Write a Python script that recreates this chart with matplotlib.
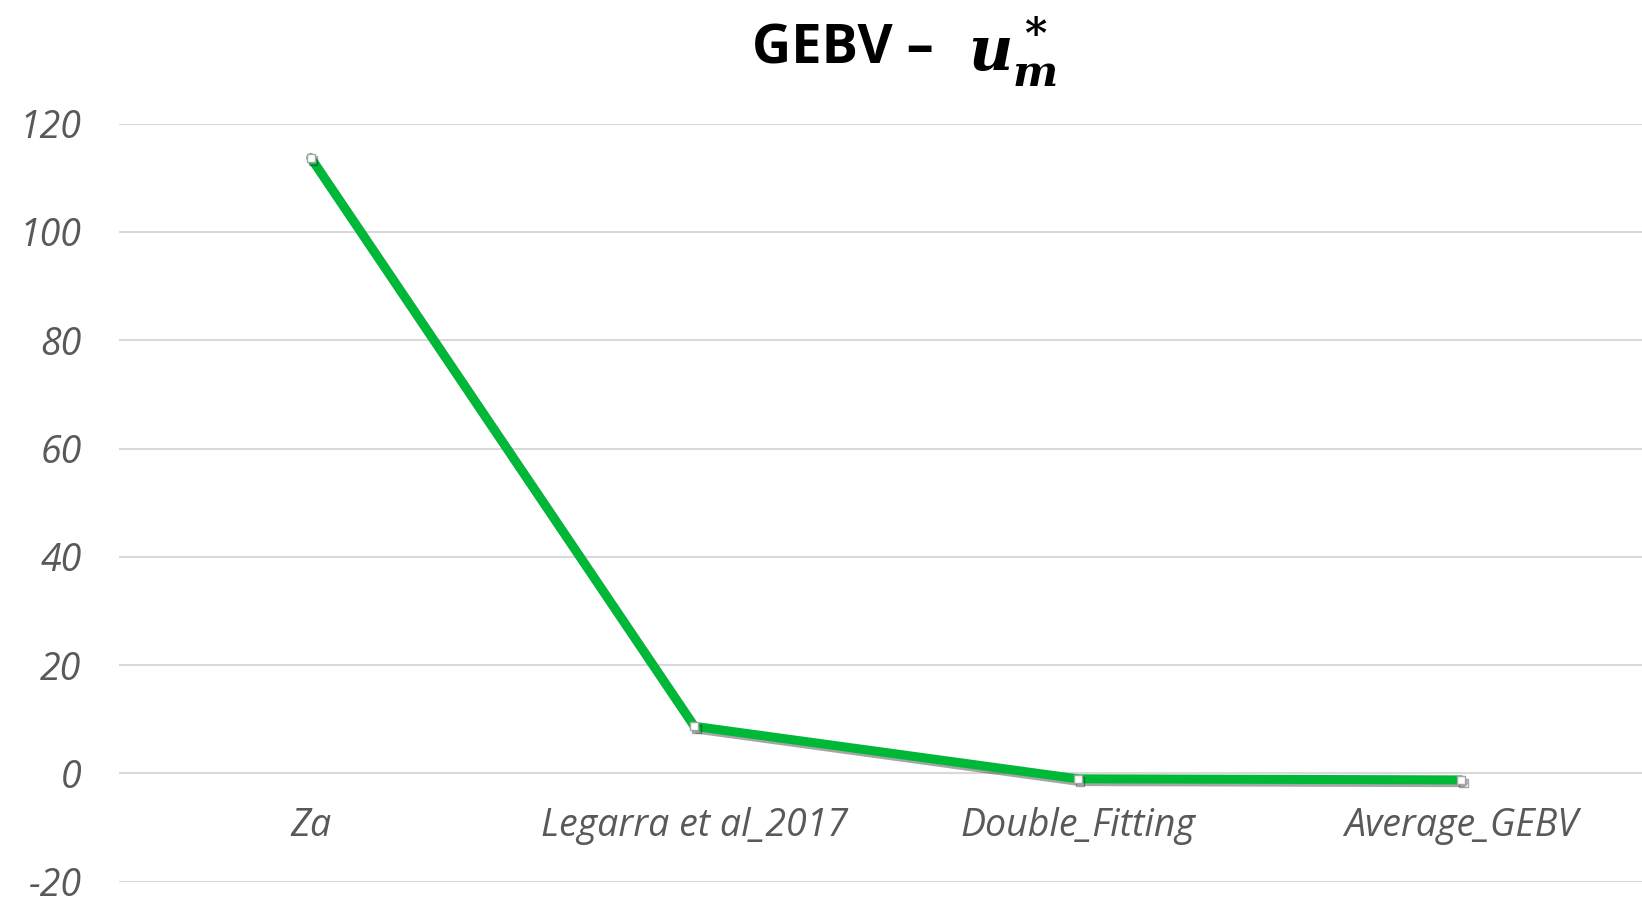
import matplotlib
matplotlib.use('Agg')
import matplotlib.pyplot as plt
import matplotlib.patheffects as pe

# values
methods = ['Za', 'Legarra et al_2017', 'Double_Fitting', 'Average_GEBV']
gebv = [113.7, 8.7, -1.0, -1.2]
yticks = [-20, 0, 20, 40, 60, 80, 100, 120]

plt.rcParams['font.family'] = ['Open Sans', 'DejaVu Sans']
plt.rcParams['axes.unicode_minus'] = False
plt.rcParams['mathtext.fontset'] = 'custom'
plt.rcParams['mathtext.it'] = 'DejaVu Serif:italic:bold'
plt.rcParams['mathtext.rm'] = 'DejaVu Serif:bold'

fig = plt.figure(figsize=(16.42, 8.99), dpi=100)
ax = fig.add_axes([119 / 1642, 17.3 / 899, 1534 / 1642, 758.1 / 899])

x = list(range(len(methods)))
ax.plot(x, gebv, color='#00B838', lw=6.5, solid_joinstyle='round', solid_capstyle='round',
        marker='s', ms=6, mfc='white', mec='#A6A6A6', mew=1, zorder=3,
        path_effects=[pe.SimpleLineShadow(offset=(1.5, -2), alpha=0.35), pe.Normal()])

ax.set_xlim(-0.5, 3.5)
ax.set_ylim(-20, 120)
ax.set_yticks(yticks)
ax.set_xticks(x)
ax.set_xticklabels(methods)
ax.grid(axis='y', color='#D9D9D9', lw=1.5)
ax.set_axisbelow(True)
for s in ax.spines.values():
    s.set_visible(False)
ax.spines['bottom'].set_position(('data', 0))
ax.tick_params(length=0, labelsize=27, labelcolor='#595959')
ax.tick_params(axis='y', pad=27)
ax.tick_params(axis='x', pad=24)
for lab in ax.get_xticklabels() + ax.get_yticklabels():
    lab.set_fontstyle('italic')

# title: bold text plus a larger math symbol
fig.text(934 / 1642, 1 - 50 / 899, 'GEBV –', ha='right', va='center',
         fontsize=39, fontweight='bold', color='black')
fig.text(968 / 1642, 1 - 52 / 899, r'$u_m^*$', ha='left', va='center',
         fontsize=44, color='black')

fig.savefig('out.png', dpi=100)
